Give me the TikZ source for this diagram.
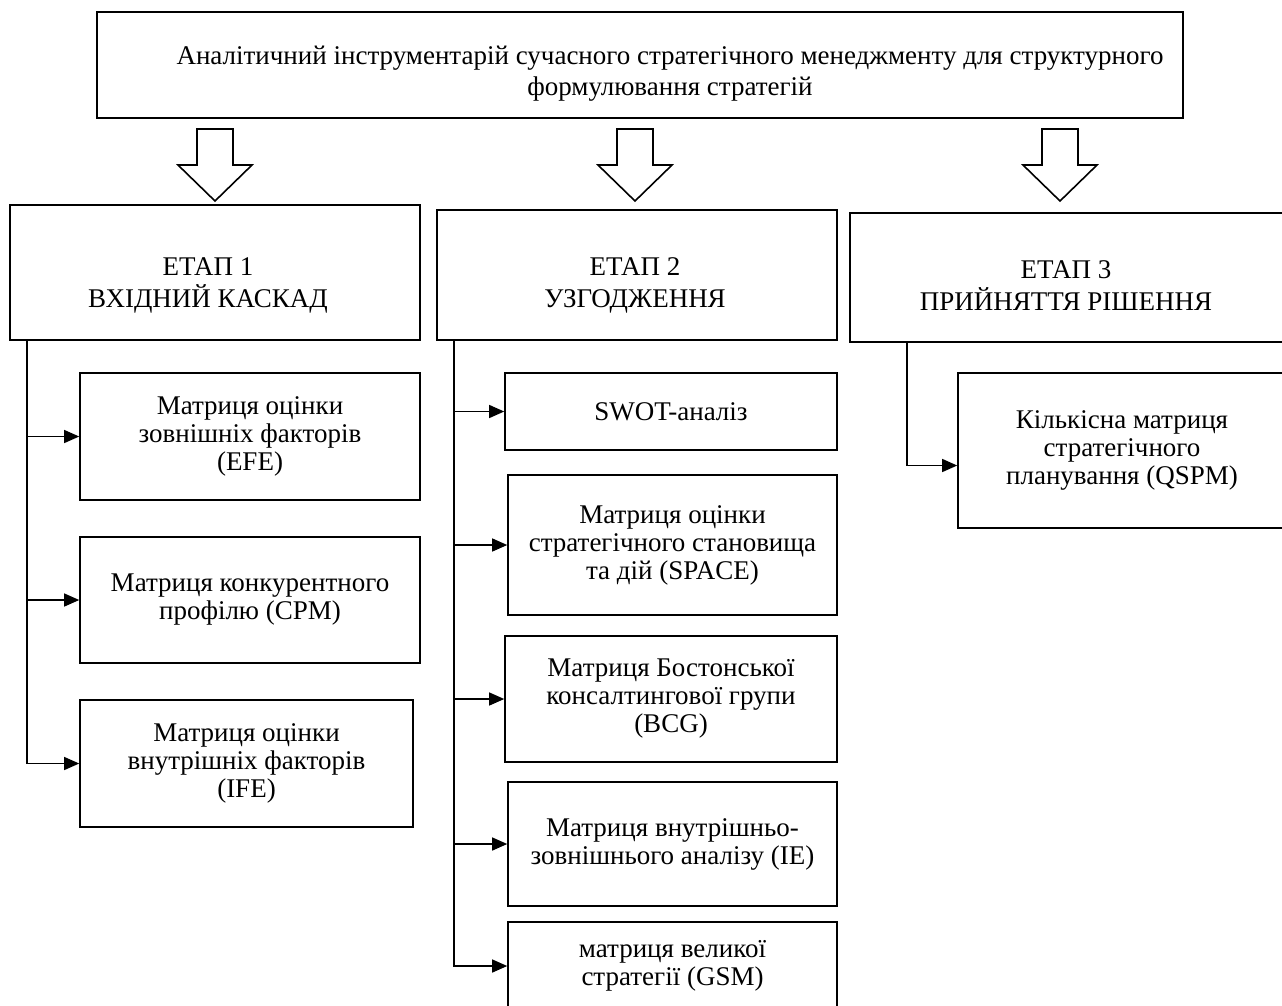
\documentclass[tikz,border=0pt]{standalone}
\usepackage{fontspec}
\setmainfont{Liberation Serif}
\usetikzlibrary{arrows.meta}

\begin{document}
\begin{tikzpicture}[x=1pt,y=-1pt,
        box/.style={draw,line width=1.6pt,inner sep=0pt,align=center,
            font=\fontsize{27}{28}\selectfont},
        title/.style={inner sep=0pt,align=center,font=\fontsize{27}{32}\selectfont},
        link/.style={-{Triangle[length=15pt,width=13pt]},line width=1.3pt},
        hollow/.style={draw,line width=1.6pt,fill=white,line join=miter}]

    \useasboundingbox (0,0) rectangle (1282,1005);

    \node[box,minimum width=1086,minimum height=106] (top) at (640,65) {};
    \node[title,font=\fontsize{27}{31}\selectfont] (toptext) at (670,74)
        {Аналітичний інструментарій сучасного стратегічного менеджменту для структурного\\формулювання стратегій};

    % block arrows under the title
    \foreach \cx in {215,635,1060}
        \draw[hollow] ({\cx-18},129) -- ({\cx+18},129) -- ({\cx+18},165) -- ({\cx+37},165)
            -- (\cx,201) -- ({\cx-37},165) -- ({\cx-18},165) -- cycle;

    \node[box,minimum width=410,minimum height=135] (s1) at (215,272.5) {};
    \node[box,minimum width=400,minimum height=130] (s2) at (637,275) {};
    \node[box,minimum width=436,minimum height=129] (s3) at (1068,277.5) {};
    \node[title] (s1t) at (208,285) {ЕТАП 1\\ВХІДНИЙ КАСКАД};
    \node[title] (s2t) at (635,285) {ЕТАП 2\\УЗГОДЖЕННЯ};
    \node[title] (s3t) at (1066,286) {ЕТАП 3\\ПРИЙНЯТТЯ РІШЕННЯ};

    % stage 1
    \node[box,minimum width=340,minimum height=127] (efe) at (250,436.5) {Матриця оцінки\\зовнішніх факторів\\(EFE)};
    \node[box,minimum width=340,minimum height=126] (cpm) at (250,600) {Матриця конкурентного\\профілю (CPM)};
    \node[box,minimum width=333,minimum height=127] (ife) at (246.5,763.5) {Матриця оцінки\\внутрішніх факторів\\(IFE)};

    % stage 2
    \node[box,minimum width=332,minimum height=77] (swot) at (671,411.5) {SWOT-аналіз};
    \node[box,minimum width=329,minimum height=140] (space) at (672.5,545) {Матриця оцінки\\стратегічного становища\\та дій (SPACE)};
    \node[box,minimum width=332,minimum height=126] (bcg) at (671,699) {Матриця Бостонської\\консалтингової групи\\(BCG)};
    \node[box,minimum width=329,minimum height=124] (ie) at (672.5,844) {Матриця внутрішньо-\\зовнішнього аналізу (IE)};
    \node[box,minimum width=329,minimum height=88] (gsm) at (672.5,966) {матриця великої\\стратегії (GSM)};

    % stage 3
    \node[box,minimum width=328,minimum height=155] (qspm) at (1122,450.5) {Кількісна матриця\\стратегічного\\планування (QSPM)};

    \coordinate (t1) at (27,0);
    \coordinate (t2) at (454,0);
    \coordinate (t3) at (907,0);

    \foreach \n in {efe,cpm,ife}
        \draw[link] (s1.south -| t1) |- (\n);
    \foreach \n in {swot,space,bcg,ie,gsm}
        \draw[link] (s2.south -| t2) |- (\n);
    \draw[link] (s3.south -| t3) |- ([yshift=-15pt]qspm.west);
\end{tikzpicture}
\end{document}
